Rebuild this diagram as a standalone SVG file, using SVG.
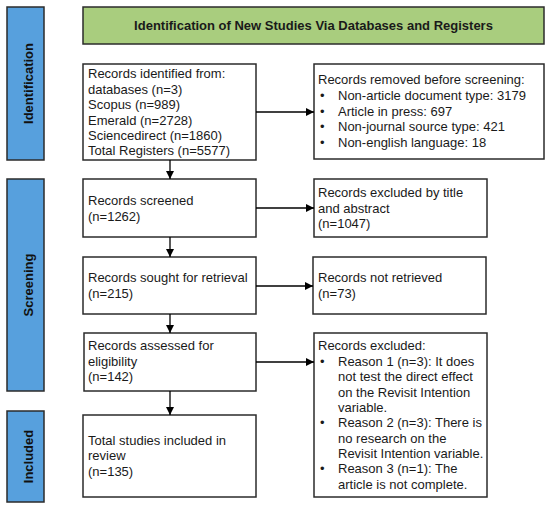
<svg xmlns="http://www.w3.org/2000/svg" width="550" height="508" viewBox="0 0 550 508">
<style>
text{font-family:"Liberation Sans",Arial,sans-serif;font-size:13px;fill:#1a1a1a}
.box{fill:#fff;stroke:#2b2b2b;stroke-width:1.5}
.phase{fill:#57a0dd;stroke:#2b2b2b;stroke-width:1.5}
.ph{font-weight:bold;font-size:13px;fill:#111}
.ln{stroke:#000;stroke-width:1.3;fill:none}
</style>
<defs>
<marker id="ah" viewBox="0 0 10 10" refX="10" refY="5" markerWidth="9" markerHeight="8" markerUnits="userSpaceOnUse" orient="auto">
<path d="M0,0 L10,5 L0,10 Z" fill="#000"/>
</marker>
</defs>
<g id="phase-identification"><rect class="phase" x="7" y="7" width="37" height="153"/><text class="ph" transform="translate(32.5,83.5) rotate(-90)" text-anchor="middle">Identification</text></g>
<g id="phase-screening"><rect class="phase" x="7" y="179" width="37" height="212"/><text class="ph" transform="translate(32.5,285) rotate(-90)" text-anchor="middle">Screening</text></g>
<g id="phase-included"><rect class="phase" x="7" y="411" width="37" height="91"/><text class="ph" transform="translate(32.5,456.5) rotate(-90)" text-anchor="middle">Included</text></g>
<g id="title"><rect x="83" y="7" width="461" height="37" fill="#a9cd7e" stroke="#2b2b2b" stroke-width="1.5"/><text x="313.5" y="30" text-anchor="middle" font-weight="bold">Identification of New Studies Via Databases and Registers</text></g>
<g id="identified"><rect class="box" x="83" y="64" width="173" height="96"/>
<text x="88" y="78">Records identified from:</text><text x="88" y="93.5">databases (n=3)</text><text x="88" y="109">Scopus (n=989)</text><text x="88" y="124.5">Emerald (n=2728)</text><text x="88" y="140">Sciencedirect (n=1860)</text><text x="88" y="155">Total Registers (n=5577)</text></g>
<g id="removed"><rect class="box" x="314" y="64" width="230" height="95"/>
<text x="318" y="84">Records removed before screening:</text>
<text x="320" y="100">•</text><text x="338" y="100">Non-article document type: 3179</text>
<text x="320" y="115.5">•</text><text x="338" y="115.5">Article in press: 697</text>
<text x="320" y="131">•</text><text x="338" y="131">Non-journal source type: 421</text>
<text x="320" y="146.5">•</text><text x="338" y="146.5">Non-english language: 18</text></g>
<g id="screened"><rect class="box" x="83" y="179" width="173" height="58"/><text x="88" y="205">Records screened</text><text x="88" y="220.5">(n=1262)</text></g>
<g id="excluded-title"><rect class="box" x="314" y="179" width="173" height="58"/><text x="318" y="197">Records excluded by title</text><text x="318" y="212.5">and abstract</text><text x="318" y="228">(n=1047)</text></g>
<g id="sought"><rect class="box" x="83" y="257" width="173" height="57"/><text x="88" y="282">Records sought for retrieval</text><text x="88" y="297.5">(n=215)</text></g>
<g id="not-retrieved"><rect class="box" x="313" y="257" width="173" height="57"/><text x="318" y="282">Records not retrieved</text><text x="318" y="297.5">(n=73)</text></g>
<g id="assessed"><rect class="box" x="84" y="333" width="172" height="58"/><text x="88" y="350">Records assessed for</text><text x="88" y="365.5">eligibility</text><text x="88" y="381">(n=142)</text></g>
<g id="excluded"><rect class="box" x="314" y="333" width="173" height="164"/>
<text x="318" y="350">Records excluded:</text>
<text x="320" y="365.5">•</text><text x="338" y="365.5">Reason 1 (n=3): It does</text>
<text x="338" y="381">not test the direct effect</text>
<text x="338" y="396.5">on the Revisit Intention</text>
<text x="338" y="412">variable.</text>
<text x="320" y="427">•</text><text x="338" y="427">Reason 2 (n=3): There is</text>
<text x="338" y="442.5">no research on the</text>
<text x="338" y="458">Revisit Intention variable.</text>
<text x="320" y="473">•</text><text x="338" y="473">Reason 3 (n=1): The</text>
<text x="338" y="488.5">article is not complete.</text></g>
<g id="included"><rect class="box" x="83" y="415" width="173" height="82"/><text x="88" y="444.5">Total studies included in</text><text x="88" y="460">review</text><text x="88" y="475.5">(n=135)</text></g>
<g id="connectors">
<line class="ln" x1="170" y1="160" x2="170" y2="179" marker-end="url(#ah)"/>
<line class="ln" x1="170" y1="237" x2="170" y2="257" marker-end="url(#ah)"/>
<line class="ln" x1="170" y1="314" x2="170" y2="333" marker-end="url(#ah)"/>
<line class="ln" x1="170" y1="391" x2="170" y2="415" marker-end="url(#ah)"/>
<line class="ln" x1="256" y1="112" x2="314" y2="112" marker-end="url(#ah)"/>
<line class="ln" x1="256" y1="208" x2="314" y2="208" marker-end="url(#ah)"/>
<line class="ln" x1="256" y1="286" x2="313" y2="286" marker-end="url(#ah)"/>
<line class="ln" x1="256" y1="362" x2="314" y2="362" marker-end="url(#ah)"/>
</g>
</svg>
